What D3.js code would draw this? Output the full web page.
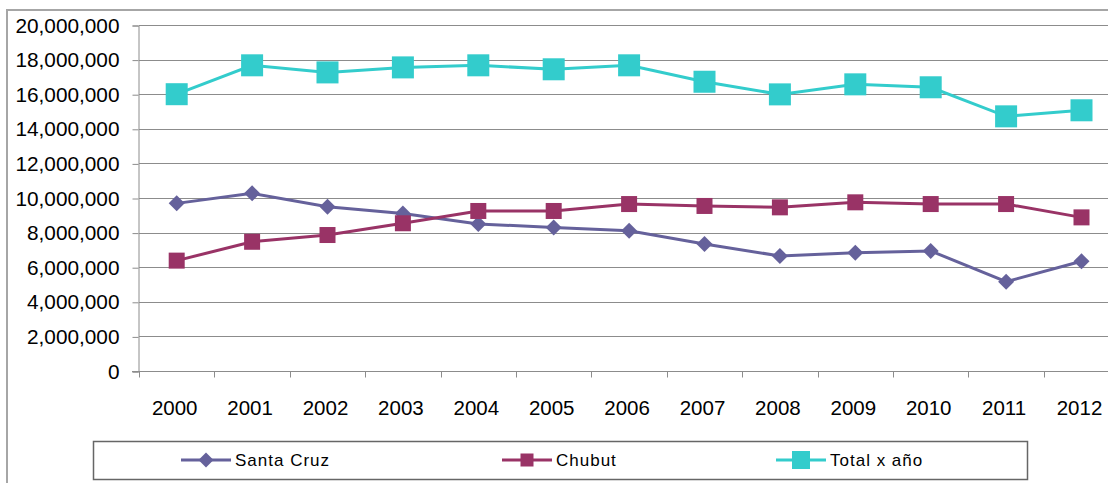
<!DOCTYPE html>
<html>
<head>
<meta charset="utf-8">
<script src="https://cdn.jsdelivr.net/npm/d3@7"></script>
<style>
  body { margin: 0; background: #fff; }
  svg { display: block; font-family: "Liberation Sans", Arial, sans-serif; }
</style>
</head>
<body>
<div id="chart"></div>
<script>
// years on the category axis
const years = ["2000","2001","2002","2003","2004","2005","2006","2007","2008","2009","2010","2011","2012"];
// series
const santaCruz = [9690000,10270000,9500000,9110000,8500000,8300000,8110000,7340000,6650000,6840000,6940000,5160000,6340000];
const chubut = [6380000,7470000,7860000,8540000,9250000,9250000,9650000,9540000,9460000,9750000,9650000,9650000,8880000];
const totalXAnio = [16000000,17670000,17260000,17550000,17670000,17440000,17670000,16720000,15990000,16570000,16400000,14720000,15070000];
const yTicks = [0,2000000,4000000,6000000,8000000,10000000,12000000,14000000,16000000,18000000,20000000];
const seriesNames = ["Santa Cruz","Chubut","Total x año"];

const W = 1108, H = 483;
const svg = d3.select("#chart").append("svg")
  .attr("width", W).attr("height", H);

// outer chart frame (right/bottom run off the picture)
svg.append("path")
  .attr("d", "M7,484 L7,10 L1110,10")
  .attr("fill", "none").attr("stroke", "#a6a6a6").attr("stroke-width", 2);

const x = d3.scaleBand().domain(years).range([139, 139 + 13 * 75.4]);
const y = d3.scaleLinear().domain([0, 20000000]).range([371, 25]);
const cx = d => x(d) + x.bandwidth() / 2;

// gridlines
svg.append("g").selectAll("line").data(yTicks.slice(1)).join("line")
  .attr("x1", x.range()[0]).attr("x2", W + 5)
  .attr("y1", d => Math.round(y(d)) + 0.5).attr("y2", d => Math.round(y(d)) + 0.5)
  .attr("stroke", "#8c8c8c").attr("stroke-width", 1);

// y axis
const yAxis = svg.append("g")
  .attr("transform", "translate(" + (x.range()[0] - 0.5) + ",0.5)")
  .call(d3.axisLeft(y).tickValues(yTicks).tickFormat(d3.format(",")).tickSize(6).tickPadding(13));
yAxis.select(".domain").attr("stroke", "#8c8c8c");
yAxis.selectAll(".tick line").attr("stroke", "#8c8c8c");
yAxis.selectAll("text").attr("font-size", 20.8).attr("fill", "#000");

// x axis, ticks between categories
const xAxis = svg.append("g")
  .attr("transform", "translate(0," + (Math.round(y(0)) + 0.5) + ")");
xAxis.append("line")
  .attr("x1", x.range()[0] - 7).attr("x2", W + 5)
  .attr("stroke", "#8c8c8c");
xAxis.selectAll(".tk").data(years).join("line")
  .attr("class", "tk")
  .attr("x1", d => Math.round(x(d)) + 0.5).attr("x2", d => Math.round(x(d)) + 0.5)
  .attr("y1", 0).attr("y2", 6)
  .attr("stroke", "#8c8c8c");
xAxis.selectAll("text").data(years).join("text")
  .attr("x", d => cx(d) - 2).attr("y", 43)
  .attr("text-anchor", "middle")
  .attr("font-size", 20.5).attr("fill", "#000")
  .text(d => d);

const line = d3.line().x((d, i) => cx(years[i])).y(d => y(d));

const series = [
  { name: seriesNames[0], values: santaCruz, color: "#65619b", shape: "diamond", size: 16 },
  { name: seriesNames[1], values: chubut, color: "#993366", shape: "square", size: 16 },
  { name: seriesNames[2], values: totalXAnio, color: "#33cccc", shape: "square", size: 22 }
];

function marker(g, shape, size, color) {
  if (shape === "diamond") {
    const h = size / 2;
    g.append("path").attr("d", `M0,${-h} L${h},0 L0,${h} L${-h},0 Z`).attr("fill", color);
  } else {
    g.append("rect").attr("x", -size / 2).attr("y", -size / 2)
      .attr("width", size).attr("height", size).attr("fill", color);
  }
}

series.forEach(s => {
  svg.append("path").datum(s.values)
    .attr("fill", "none").attr("stroke", s.color).attr("stroke-width", 3)
    .attr("d", line);
  s.values.forEach((v, i) => {
    const g = svg.append("g").attr("transform", `translate(${cx(years[i])},${y(v)})`);
    marker(g, s.shape, s.size, s.color);
  });
});

// legend
const legend = svg.append("g");
legend.append("rect")
  .attr("x", 93.5).attr("y", 441.5).attr("width", 934).attr("height", 38)
  .attr("fill", "#fff").attr("stroke", "#666").attr("stroke-width", 1.5);
const legendX = [181, 502, 776];
const legendSize = [15, 13, 18];
series.forEach((s, i) => {
  const g = legend.append("g").attr("transform", `translate(${legendX[i]},460)`);
  g.append("line").attr("x1", 0).attr("x2", 50).attr("stroke", s.color).attr("stroke-width", 3);
  const m = g.append("g").attr("transform", "translate(25,0)");
  marker(m, s.shape, legendSize[i], s.color);
  g.append("text").attr("x", 54).attr("y", 6)
    .attr("font-size", 17).attr("letter-spacing", 1).attr("fill", "#000")
    .text(s.name);
});
</script>
</body>
</html>
